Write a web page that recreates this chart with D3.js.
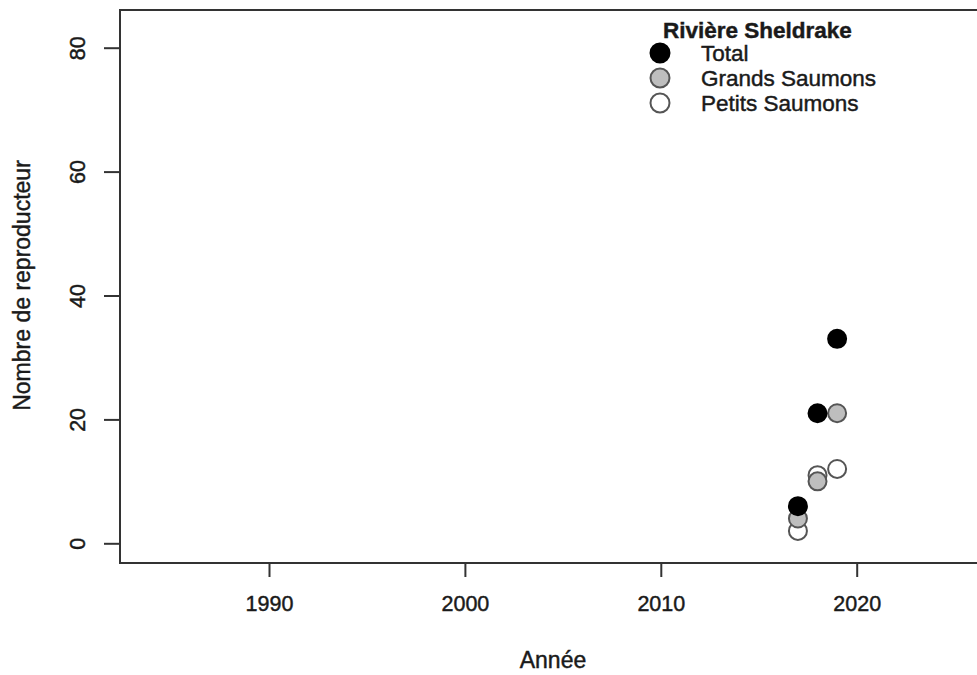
<!DOCTYPE html>
<html><head><meta charset="utf-8">
<script src="https://cdn.jsdelivr.net/npm/d3@7"></script>
<style>body{margin:0;background:#fff}svg{display:block;font-family:"Liberation Sans",Arial,sans-serif}
svg text{stroke:#1a1a1a;stroke-width:0.45px;fill:#1a1a1a}</style>
</head><body>
<svg id="c" width="977" height="675"></svg>
<script>
const years = [2017, 2018, 2019];
const total = [6, 21, 33];
const grands = [4, 10, 21];
const petits = [2, 11, 12];
const xTicks = [1990, 2000, 2010, 2020];
const yTicks = [0, 20, 40, 60, 80];
const legendTitle = "Rivière Sheldrake";
const legendLabels = ["Total", "Grands Saumons", "Petits Saumons"];
const xTitle = "Année";
const yTitle = "Nombre de reproducteur";

(function () {
const svg = d3.select("#c");
const x = d3.scaleLinear().domain([1990, 2020]).range([269, 856.7]);
const y = d3.scaleLinear().domain([0, 80]).range([543.3, 47.7]);
const pL = 120, pT = 10, pB = 563, pR = 1010;
const axisCol = "#333";

svg.append("rect").attr("x", pL).attr("y", pT).attr("width", pR - pL).attr("height", pB - pT)
  .attr("fill", "none").attr("stroke", axisCol).attr("stroke-width", 2);

const xa = svg.append("g").attr("transform", `translate(0,${pB})`)
  .call(d3.axisBottom(x).tickValues(xTicks).tickFormat(d3.format("d")).tickSize(14).tickPadding(19));
const ya = svg.append("g").attr("transform", `translate(${pL},0)`)
  .call(d3.axisLeft(y).tickValues(yTicks).tickSize(16).tickPadding(0));
[xa, ya].forEach(g => {
  g.select(".domain").remove();
  g.selectAll("line").attr("stroke", axisCol).attr("stroke-width", 2);
  g.selectAll("text").attr("fill", "#1a1a1a").style("font-size", "21.5px").style("font-family", '"Liberation Sans",Arial,sans-serif');
});
ya.selectAll("text").attr("text-anchor", "middle").attr("dy", null)
  .attr("x", null)
  .attr("transform", "translate(-42,0) rotate(-90)")
  .attr("dominant-baseline", "central");

svg.append("text").attr("x", 553).attr("y", 668).attr("text-anchor", "middle")
  .style("font-size", "23px").text(xTitle);
svg.append("text").attr("transform", `translate(30,${(163 + 408) / 2}) rotate(-90)`).attr("text-anchor", "middle")
  .style("font-size", "23px").text(yTitle);

const r = 9;
function drawSeries(vals, fill, stroke) {
  svg.append("g").selectAll("circle").data(years).join("circle")
    .attr("cx", d => x(d)).attr("cy", (d, i) => y(vals[i])).attr("r", r)
    .attr("fill", fill).attr("stroke", stroke).attr("stroke-width", 2);
}
drawSeries(petits, "#ffffff", "#555");
drawSeries(grands, "#bebebe", "#555");
drawSeries(total, "#000000", "#000");

const lg = svg.append("g");
lg.append("text").attr("x", 663).attr("y", 38).style("font-size", "22.5px").style("font-weight", "bold")
  .text(legendTitle);
const lFill = ["#000000", "#bebebe", "#ffffff"], lStroke = ["#000", "#555", "#555"];
legendLabels.forEach((t, i) => {
  const cy = 53 + i * 25;
  lg.append("circle").attr("cx", 660).attr("cy", cy).attr("r", 9.5).attr("fill", lFill[i]).attr("stroke", lStroke[i]).attr("stroke-width", 2);
  lg.append("text").attr("x", 701).attr("y", cy).attr("dy", "0.36em").style("font-size", "22.5px").text(t);
});
})();
</script>
</body></html>
